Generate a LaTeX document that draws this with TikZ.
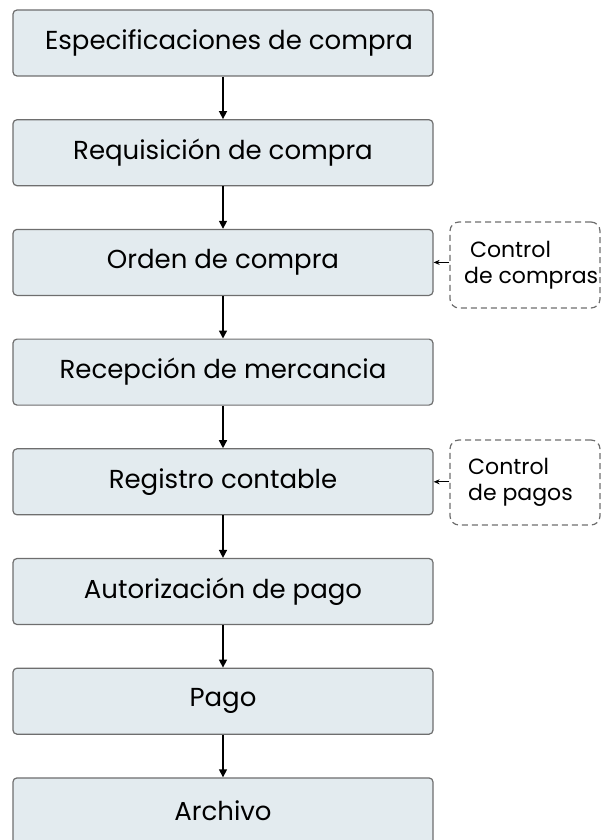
\documentclass[tikz,border=0pt]{standalone}
\usepackage{fontspec}
\setmainfont{Poppins}
\usetikzlibrary{arrows.meta}
\definecolor{boxfill}{HTML}{E3EBEF}
\definecolor{boxline}{HTML}{6E6E6E}
\begin{document}
\begin{tikzpicture}[x=1pt,y=-1pt,
  stepbox/.style={draw=boxline,line width=1.2pt,fill=boxfill,rounded corners=4pt,
    minimum width=420pt,minimum height=66pt,inner sep=0pt,font=\fontsize{26}{30}\selectfont},
  ctrlbox/.style={draw=boxline,line width=1.2pt,dashed,dash pattern=on 6pt off 4pt,rounded corners=9pt,
    minimum width=150pt,inner sep=0pt},
  ctrltext/.style={align=left,inner sep=0pt,font=\fontsize{22}{26}\selectfont},
  flow/.style={-{Triangle[length=8pt,width=8pt]},line width=1.5pt},
  ctrl/.style={-{Stealth[length=6pt,width=5pt]},line width=1.3pt}]
\useasboundingbox (0,0) rectangle (605,840);
\node[stepbox] (spec) at (223,43) {\hspace*{12pt}Especificaciones de compra};
\node[stepbox] (req) at (223,152.7) {Requisición de compra};
\node[stepbox] (orden) at (223,262.4) {Orden de compra};
\node[stepbox] (recep) at (223,372.1) {Recepción de mercancia};
\node[stepbox] (reg) at (223,481.8) {Registro contable};
\node[stepbox] (aut) at (223,591.5) {Autorización de pago};
\node[stepbox] (pago) at (223,701.2) {Pago};
\node[stepbox] (arch) at (223,810.9) {Archivo};
% controles
\node[ctrlbox,minimum height=86pt] (ccomp) at (525,265) {};
\node[ctrltext,anchor=west] (tcomp) at (464,265) {\ Control\\de compras};
\node[ctrlbox,minimum height=85pt] (cpag) at (525,482.5) {};
\node[ctrltext,anchor=west] (tpag) at (468,482.5) {Control\\de pagos};
\draw[flow] (spec) -- (req);
\draw[flow] (req) -- (orden);
\draw[flow] (orden) -- (recep);
\draw[flow] (recep) -- (reg);
\draw[flow] (reg) -- (aut);
\draw[flow] (aut) -- (pago);
\draw[flow] (pago) -- (arch);
\draw[ctrl] (ccomp.west |- orden.east) -- (orden.east);
\draw[ctrl] (cpag.west |- reg.east) -- (reg.east);
\end{tikzpicture}
\end{document}
